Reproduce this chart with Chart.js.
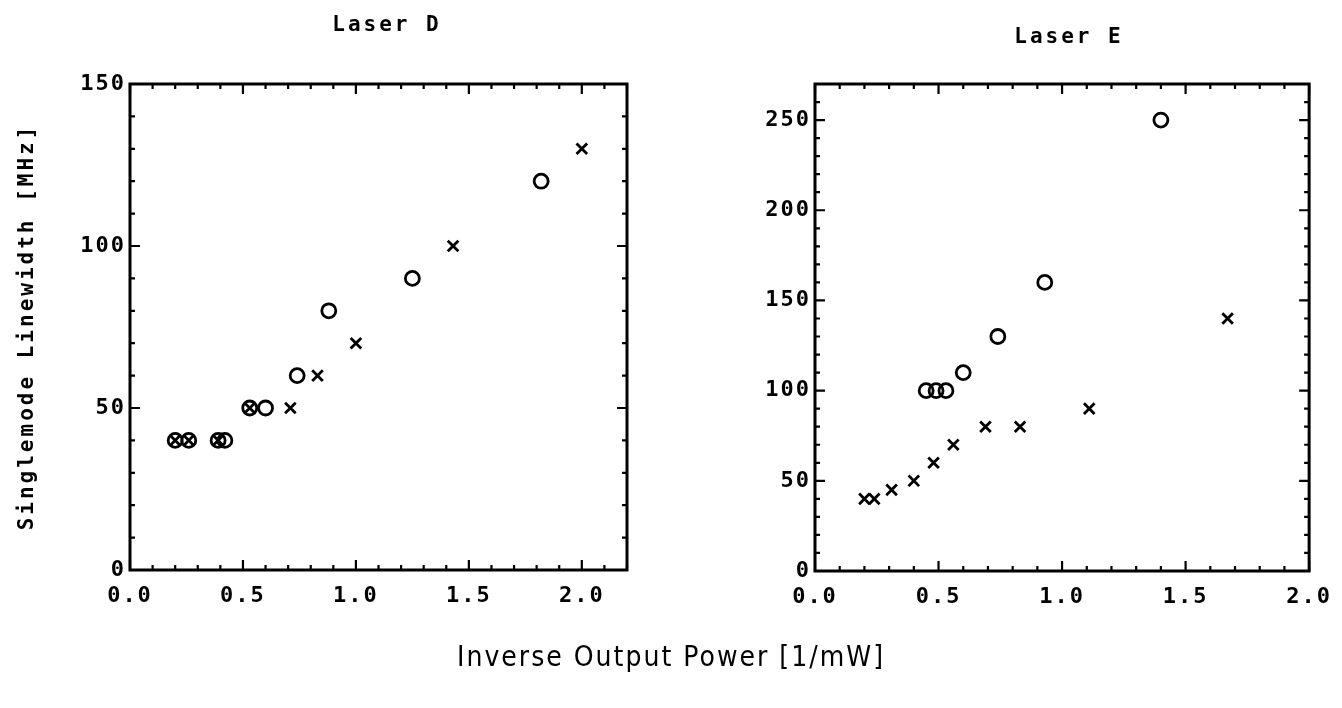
<!DOCTYPE html>
<html>
<head>
<meta charset="utf-8">
<title>Singlemode linewidth vs inverse output power</title>
<script src="https://cdn.jsdelivr.net/npm/chart.js@4.4.1/dist/chart.umd.min.js"></script>
<style>
  html, body { margin: 0; padding: 0; background: #fff; }
  #page { position: relative; width: 1342px; height: 708px; overflow: hidden; }
  canvas { position: absolute; top: 0; }
  #xTitle {
    position: absolute; left: 0; width: 1342px; top: 640px;
    text-align: center; color: #000;
    font-family: "DejaVu Sans Condensed", "DejaVu Sans", sans-serif;
    font-stretch: condensed; font-size: 28px; letter-spacing: 2px;
  }
</style>
</head>
<body>
<div id="page">
  <canvas id="panelD" width="671" height="708" style="left:0"></canvas>
  <canvas id="panelE" width="671" height="708" style="left:671px"></canvas>
  <div id="xTitle">Inverse Output Power [1/mW]</div>
</div>
<script>
// Laser D: linewidth (MHz) against inverse output power (1/mW)
const laserD_circle_x = [0.20, 0.26, 0.39, 0.42, 0.53, 0.60, 0.74, 0.88, 1.25, 1.82];
const laserD_circle_y = [40, 40, 40, 40, 50, 50, 60, 80, 90, 120];
const laserD_cross_x  = [0.20, 0.26, 0.39, 0.53, 0.71, 0.83, 1.00, 1.43, 2.00];
const laserD_cross_y  = [40, 40, 40, 50, 50, 60, 70, 100, 130];

// Laser E
const laserE_circle_x = [0.45, 0.49, 0.53, 0.60, 0.74, 0.93, 1.40];
const laserE_circle_y = [100, 100, 100, 110, 130, 160, 250];
const laserE_cross_x  = [0.20, 0.24, 0.31, 0.40, 0.48, 0.56, 0.69, 0.83, 1.11, 1.67];
const laserE_cross_y  = [40, 40, 45, 50, 60, 70, 80, 80, 90, 140];

// Axis tick labels
const xTicksD = [0.0, 0.5, 1.0, 1.5, 2.0];
const yTicksD = [0, 50, 100, 150];
const xTicksE = [0.0, 0.5, 1.0, 1.5, 2.0];
const yTicksE = [0, 50, 100, 150, 200, 250];

const titleD = 'Laser D';
const titleE = 'Laser E';
const yTitle = 'Singlemode Linewidth [MHz]';

const MONO = '"DejaVu Sans Mono", "Liberation Mono", monospace';

function pairs(xs, ys) { return xs.map((x, i) => ({ x: x, y: ys[i] })); }

// Boxed frame with inward major/minor ticks on all four sides,
// plus panel title and optional y-axis title.
const framePlugin = {
  id: 'frame',
  beforeDraw(chart) {
    chart.ctx.letterSpacing = '2px';
  },
  beforeDatasetsDraw(chart, args, opts) {
    const ctx = chart.ctx;
    const a = chart.chartArea;
    const xs = chart.scales.x, ys = chart.scales.y;
    ctx.save();
    ctx.letterSpacing = '0px';
    ctx.strokeStyle = '#000';
    ctx.lineWidth = 3;
    ctx.strokeRect(a.left, a.top, a.right - a.left, a.bottom - a.top);
    ctx.lineWidth = 2.2;
    ctx.beginPath();
    // x ticks
    const nx = Math.round((xs.max - xs.min) / opts.xMinor);
    for (let i = 0; i <= nx; i++) {
      const v = xs.min + i * opts.xMinor;
      const major = Math.abs(v / opts.xMajor - Math.round(v / opts.xMajor)) < 1e-6;
      const len = major ? 10 : 5;
      const px = xs.getPixelForValue(v);
      ctx.moveTo(px, a.bottom); ctx.lineTo(px, a.bottom - len);
      ctx.moveTo(px, a.top); ctx.lineTo(px, a.top + len);
    }
    // y ticks
    const ny = Math.round((ys.max - ys.min) / opts.yMinor);
    for (let i = 0; i <= ny; i++) {
      const v = ys.min + i * opts.yMinor;
      const major = Math.abs(v / opts.yMajor - Math.round(v / opts.yMajor)) < 1e-6;
      const len = major ? 10 : 5;
      const py = ys.getPixelForValue(v);
      ctx.moveTo(a.left, py); ctx.lineTo(a.left + len, py);
      ctx.moveTo(a.right, py); ctx.lineTo(a.right - len, py);
    }
    ctx.stroke();

    // panel title
    ctx.fillStyle = '#000';
    ctx.font = 'bold 21px ' + MONO;
    ctx.letterSpacing = '3px';
    ctx.textAlign = 'center';
    ctx.textBaseline = 'middle';
    ctx.fillText(opts.title, opts.titleX, opts.titleY);

    if (opts.yTitle) {
      ctx.font = 'bold 21px ' + MONO;
      ctx.letterSpacing = '3px';
      ctx.translate(opts.yTitleX, opts.yTitleY);
      ctx.rotate(-Math.PI / 2);
      ctx.fillText(opts.yTitle, 0, 0);
    }
    ctx.restore();
  }
};

function makePanel(id, cfg) {
  return new Chart(document.getElementById(id), {
    type: 'scatter',
    data: {
      datasets: [
        {
          data: pairs(cfg.cx, cfg.cy),
          pointStyle: 'circle', pointRadius: 7, pointHoverRadius: 7,
          borderColor: '#000', backgroundColor: 'rgba(0,0,0,0)', borderWidth: 2.8
        },
        {
          data: pairs(cfg.xx, cfg.xy),
          pointStyle: 'crossRot', pointRadius: 7.5, pointHoverRadius: 7.5,
          borderColor: '#000', backgroundColor: '#000', borderWidth: 2.8
        }
      ]
    },
    options: {
      responsive: false,
      animation: false,
      devicePixelRatio: 1,
      events: [],
      layout: { padding: { left: 0, top: cfg.top, right: cfg.padRight, bottom: 0 } },
      plugins: {
        legend: { display: false },
        tooltip: { enabled: false },
        frame: cfg.frame
      },
      scales: {
        x: {
          type: 'linear', min: 0, max: cfg.xMax,
          grid: { display: false, drawTicks: false },
          border: { display: false },
          afterBuildTicks: s => { s.ticks = cfg.xTicks.map(v => ({ value: v })); },
          afterFit: s => { s.height = cfg.xAxisH; },
          ticks: {
            color: '#000', padding: 13, maxRotation: 0, autoSkip: false,
            font: { family: MONO, size: 22, weight: 'bold' },
            callback: v => Number(v).toFixed(1)
          }
        },
        y: {
          type: 'linear', min: 0, max: cfg.yMax,
          grid: { display: false, drawTicks: false },
          border: { display: false },
          afterBuildTicks: s => { s.ticks = cfg.yTicks.map(v => ({ value: v })); },
          afterFit: s => { s.width = cfg.yAxisW; },
          ticks: {
            color: '#000', padding: 4, autoSkip: false,
            font: { family: MONO, size: 22, weight: 'bold' },
            callback: v => String(v)
          }
        }
      }
    },
    plugins: [framePlugin]
  });
}

makePanel('panelD', {
  cx: laserD_circle_x, cy: laserD_circle_y, xx: laserD_cross_x, xy: laserD_cross_y,
  xTicks: xTicksD, yTicks: yTicksD, xMax: 2.2, yMax: 150,
  top: 84, padRight: 44, yAxisW: 130, xAxisH: 138,
  frame: {
    xMinor: 0.1, xMajor: 0.5, yMinor: 10, yMajor: 50,
    title: titleD, titleX: 387, titleY: 26,
    yTitle: yTitle, yTitleX: 28, yTitleY: 327
  }
});

makePanel('panelE', {
  cx: laserE_circle_x, cy: laserE_circle_y, xx: laserE_cross_x, xy: laserE_cross_y,
  xTicks: xTicksE, yTicks: yTicksE, xMax: 2.0, yMax: 270,
  top: 84, padRight: 29, yAxisW: 144, xAxisH: 137,
  frame: {
    xMinor: 0.1, xMajor: 0.5, yMinor: 10, yMajor: 50,
    title: titleE, titleX: 398, titleY: 38,
    yTitle: null
  }
});
</script>
</body>
</html>
